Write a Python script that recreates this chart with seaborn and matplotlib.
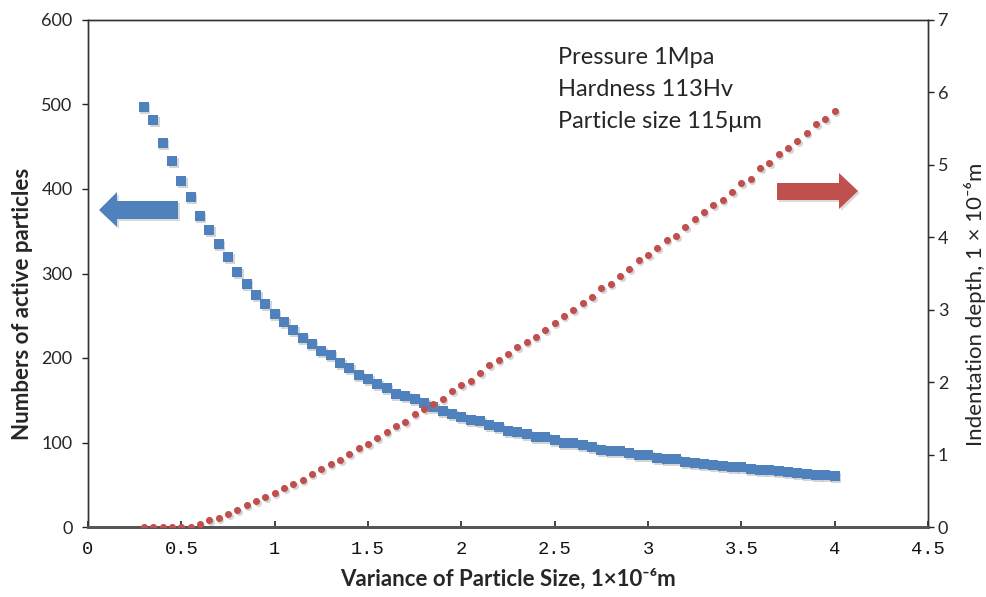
import numpy as np
import pandas as pd
import matplotlib
matplotlib.use("Agg")
import matplotlib.pyplot as plt
from matplotlib.patches import Polygon
from matplotlib.transforms import offset_copy
import seaborn as sns

# ---------------- data ----------------
x_vals = [0.30, 0.35, 0.40, 0.45, 0.50, 0.55, 0.60, 0.65, 0.70, 0.75,
          0.80, 0.85, 0.90, 0.95, 1.00, 1.05, 1.10, 1.15, 1.20, 1.25,
          1.30, 1.35, 1.40, 1.45, 1.50, 1.55, 1.60, 1.65, 1.70, 1.75,
          1.80, 1.85, 1.90, 1.95, 2.00, 2.05, 2.10, 2.15, 2.20, 2.25,
          2.30, 2.35, 2.40, 2.45, 2.50, 2.55, 2.60, 2.65, 2.70, 2.75,
          2.80, 2.85, 2.90, 2.95, 3.00, 3.05, 3.10, 3.15, 3.20, 3.25,
          3.30, 3.35, 3.40, 3.45, 3.50, 3.55, 3.60, 3.65, 3.70, 3.75,
          3.80, 3.85, 3.90, 3.95, 4.00]

active_particles = [497, 482, 455, 433, 410, 391, 368, 351, 335, 320,
                    302, 288, 275, 264, 252, 243, 233, 224, 217, 208,
                    203, 194, 188, 180, 175, 169, 164, 157, 155, 151,
                    147, 142, 137, 134, 130, 127, 125, 121, 118, 114,
                    112, 110, 107, 106, 103, 100, 99, 97, 95, 91,
                    90, 90, 88, 85, 85, 82, 81, 81, 77, 76,
                    75, 73, 72, 71, 71, 69, 68, 67, 66, 65,
                    64, 63, 62, 61, 60]

indentation_depth = [0.0, 0.0, 0.0, 0.0, 0.0, 0.0, 0.04, 0.09, 0.13, 0.18,
                     0.24, 0.30, 0.36, 0.41, 0.47, 0.54, 0.59, 0.65, 0.73, 0.80,
                     0.87, 0.93, 1.01, 1.09, 1.14, 1.23, 1.31, 1.39, 1.45, 1.56,
                     1.63, 1.70, 1.77, 1.88, 1.96, 2.02, 2.12, 2.23, 2.31, 2.39,
                     2.48, 2.56, 2.63, 2.72, 2.82, 2.91, 2.99, 3.09, 3.18, 3.30,
                     3.36, 3.47, 3.56, 3.68, 3.75, 3.85, 3.96, 4.02, 4.14, 4.25,
                     4.35, 4.44, 4.51, 4.63, 4.75, 4.81, 4.95, 5.03, 5.15, 5.23,
                     5.33, 5.44, 5.56, 5.64, 5.75]

x_ticks = [0, 0.5, 1, 1.5, 2, 2.5, 3, 3.5, 4, 4.5]
x_tick_labels = ["0", "0.5", "1", "1.5", "2", "2.5", "3", "3.5", "4", "4.5"]
left_ticks = [0, 100, 200, 300, 400, 500, 600]
right_ticks = [0, 1, 2, 3, 4, 5, 6, 7]
info_lines = ["Pressure 1Mpa", "Hardness 113Hv", "Particle size 115\u03bcm"]

df = pd.DataFrame({"x": x_vals, "n": active_particles, "d": indentation_depth})

# ---------------- style ----------------
sns.set_style("white")
plt.rcParams["font.family"] = ["Lato", "DejaVu Sans"]

BLUE = "#4F81BD"
RED = "#C0504D"
W, H = 987, 597

fig = plt.figure(figsize=(W / 100, H / 100), dpi=100)
L, R, T, B = 88, 928, 20, 527
ax = fig.add_axes([L / W, 1 - B / H, (R - L) / W, (B - T) / H])
ax2 = ax.twinx()

# subtle shadows
sh1 = offset_copy(ax.transData, fig=fig, x=1.5, y=-2.0, units="dots")
sh2 = offset_copy(ax2.transData, fig=fig, x=1.5, y=-2.0, units="dots")
ax.scatter(df["x"], df["n"], marker="s", s=52, color="#888888", alpha=0.35,
           linewidths=0, transform=sh1, zorder=2)
ax2.scatter(df["x"], df["d"], marker="o", s=26, color="#888888", alpha=0.35,
            linewidths=0, transform=sh2, zorder=2)

sns.scatterplot(data=df, x="x", y="n", ax=ax, marker="s", s=52, color=BLUE,
                linewidth=0, zorder=3, legend=False)
sns.scatterplot(data=df, x="x", y="d", ax=ax2, marker="o", s=26, color=RED,
                linewidth=0, zorder=3, legend=False)

ax.set_xlim(0, 4.5)
ax.set_ylim(0, 600)
ax2.set_ylim(0, 7)

ax.set_xticks(x_ticks)
ax.set_xticklabels(x_tick_labels, fontfamily="Liberation Mono", fontsize=13.5,
                   color="#111111")
ax.set_yticks(left_ticks)
ax2.set_yticks(right_ticks)
for lab in ax.get_yticklabels():
    lab.set_fontsize(13)
for lab in ax2.get_yticklabels():
    lab.set_fontsize(13)

ax.tick_params(axis="x", direction="in", length=4, width=1.2, color="#222222",
               pad=10, bottom=True, top=False)
ax.tick_params(axis="y", direction="out", length=4, width=1, color="#222222",
               pad=7, left=True)
ax2.tick_params(axis="y", direction="out", length=4, width=1, color="#222222",
                pad=3, right=True)

for a in (ax, ax2):
    for sp in a.spines.values():
        sp.set_visible(True)
        sp.set_color("#333333")
        sp.set_linewidth(1.0)
    a.spines["bottom"].set_color("#555555")
    a.spines["bottom"].set_linewidth(2.0)

ax.set_xlabel("Variance of Particle Size, 1\u00d710\u207b\u2076m", fontsize=16,
              fontweight="bold")
ax.xaxis.set_label_coords(0.5, -0.082)
ax.set_ylabel("Numbers of active particles", fontsize=16, fontweight="bold")
ax.yaxis.set_label_coords(-0.066, 0.44)
ax2.set_ylabel("Indentation depth, 1 \u00d7 10\u207b\u2076m", fontsize=16)
ax2.yaxis.set_label_coords(1.043, 0.44)

# info text
for i, t in enumerate(info_lines):
    fig.text(558 / W, 1 - (58 + 32 * i) / H, t, fontsize=17, va="center",
             ha="left", family=["Lato", "DejaVu Sans"])

# arrows (pixel polygons in figure coordinates)
def px(pts):
    return [(xx / W, 1 - yy / H) for xx, yy in pts]

blue_arrow = [(178, 201), (117, 201), (117, 192), (99, 210), (117, 227),
              (117, 219), (178, 219)]
red_arrow = [(777, 183), (839, 183), (839, 173), (858, 191), (839, 209),
             (839, 200), (777, 200)]
for pts, c in ((blue_arrow, BLUE), (red_arrow, RED)):
    shadow = Polygon(px([(a + 2, b + 2) for a, b in pts]), closed=True,
                     transform=fig.transFigure, color="#999999", alpha=0.35,
                     lw=0)
    fig.patches.append(shadow)
    poly = Polygon(px(pts), closed=True, transform=fig.transFigure, color=c,
                   lw=0)
    fig.patches.append(poly)

fig.savefig("out.png", dpi=100)
